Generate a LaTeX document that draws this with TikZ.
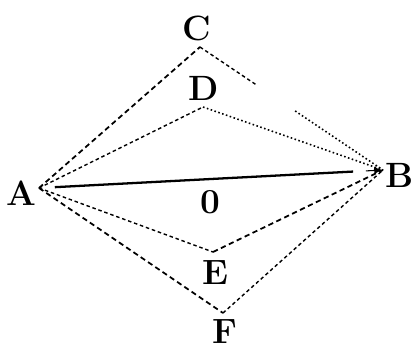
\documentclass[tikz,border=0pt]{standalone}
\usepackage{tikz}
\usetikzlibrary{arrows.meta, calc}

\begin{document}
\begin{tikzpicture}[x=0.02cm, y=-0.02cm, >=Latex,
		lbl/.style={font=\fontsize{20}{22}\selectfont\bfseries, inner sep=0pt},
		heavydash/.style={densely dashed, line width=1pt},
		lightdash/.style={dash pattern=on 2pt off 1.6pt, line width=0.8pt},
		dotline/.style={dash pattern=on 0.9pt off 1.4pt, line width=0.9pt}]
		\useasboundingbox (0,0) rectangle (414,353);
		% points
		\coordinate (A) at (39,188);
		\coordinate (B) at (383,170);
		\coordinate (C) at (200,47);
		\coordinate (D) at (203,107);
		\coordinate (E) at (213,252);
		\coordinate (F) at (223,313);
		% labels
		\node[lbl] (lA) at (21,193) {A};
		\node[lbl] (lB) at (400,175) {B};
		\node[lbl] (lC) at (197,28) {C};
		\node[lbl] (lD) at (204,88) {D};
		\node[lbl] (lO) at (210,202) {0};
		\node[lbl] (lE) at (215,273) {E};
		\node[lbl] (lF) at (225,332) {F};
		% lines
		\draw[line width=1.3pt, shorten <=9pt, shorten >=17pt] (A) -- (B);
		\draw[-{Latex[length=5pt,width=4pt]}, line width=0.6pt] ($(A)!0.95!(B)$) -- (B);
		\draw[heavydash] (A) -- (C);
		\draw[lightdash] (C) -- ($(C)!0.31!(B)$);
		\draw[dotline] ($(C)!0.52!(B)$) -- (B);
		\draw[lightdash] (A) -- (D);
		\draw[dotline] (D) -- (B);
		\draw[lightdash] (A) -- (E);
		\draw[heavydash] (E) -- (B);
		\draw[heavydash] (A) -- (F);
		\draw[lightdash] (F) -- (B);
	\end{tikzpicture}
\end{document}
